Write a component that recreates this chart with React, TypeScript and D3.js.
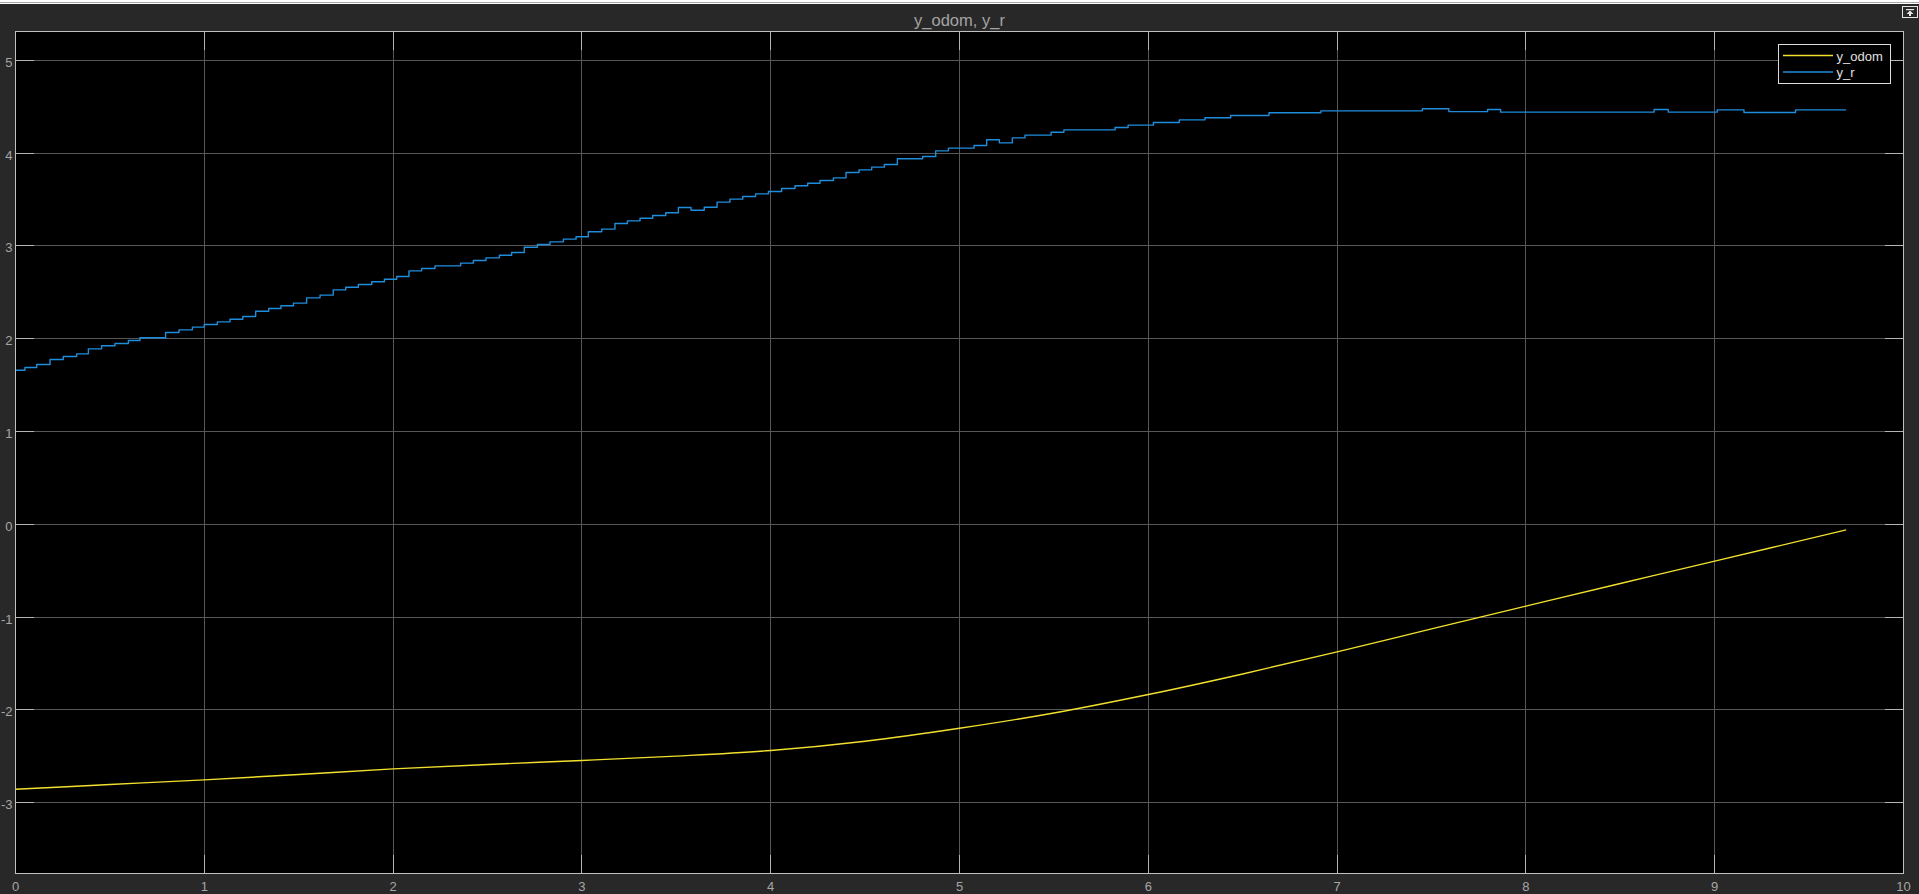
import React from "react";
import * as d3 from "d3";

// ---- Data ----
const xTickValues = [0, 1, 2, 3, 4, 5, 6, 7, 8, 9, 10];
const yTickValues = [-3, -2, -1, 0, 1, 2, 3, 4, 5];
const chartTitle = "y_odom, y_r";
const seriesNames = ["y_odom", "y_r"];

// y_r: staircase, time of each step and the level held after it
const yrTime = [
  0, 0.05, 0.112, 0.183, 0.253, 0.324, 0.386, 0.456, 0.527, 0.598, 0.659, 0.795, 0.866, 0.937,
  1.0, 1.069, 1.136, 1.204, 1.272, 1.341, 1.406, 1.472, 1.542, 1.613, 1.683, 1.749, 1.816, 1.887,
  1.954, 2.019, 2.084, 2.151, 2.222, 2.358, 2.425, 2.492, 2.563, 2.628, 2.695, 2.764, 2.831, 2.902,
  2.969, 3.034, 3.105, 3.175, 3.241, 3.308, 3.375, 3.444, 3.511, 3.578, 3.648, 3.716, 3.784, 3.852,
  3.92, 3.988, 4.058, 4.129, 4.196, 4.261, 4.332, 4.399, 4.468, 4.535, 4.602, 4.671, 4.805, 4.874,
  4.941, 5.077, 5.144, 5.211, 5.28, 5.347, 5.485, 5.553, 5.824, 5.893, 6.027, 6.164, 6.3, 6.436,
  6.639, 6.914, 7.452, 7.592, 7.797, 7.866, 8.679, 8.754, 9.013, 9.155, 9.428, 9.696,
];
const yrValue = [
  1.661, 1.69, 1.722, 1.776, 1.809, 1.837, 1.891, 1.924, 1.949, 1.981, 2.01, 2.067, 2.096, 2.125,
  2.154, 2.182, 2.211, 2.24, 2.297, 2.326, 2.355, 2.384, 2.441, 2.47, 2.527, 2.556, 2.585, 2.614,
  2.642, 2.671, 2.732, 2.757, 2.786, 2.815, 2.844, 2.872, 2.901, 2.93, 2.987, 3.016, 3.045, 3.074,
  3.099, 3.153, 3.182, 3.243, 3.271, 3.3, 3.329, 3.358, 3.415, 3.386, 3.418, 3.473, 3.505, 3.534,
  3.562, 3.588, 3.62, 3.649, 3.677, 3.706, 3.735, 3.792, 3.821, 3.85, 3.879, 3.94, 3.965, 4.026,
  4.055, 4.084, 4.145, 4.112, 4.166, 4.195, 4.227, 4.252, 4.278, 4.303, 4.332, 4.36, 4.382, 4.407,
  4.436, 4.457, 4.479, 4.449, 4.472, 4.443, 4.472, 4.443, 4.468, 4.44, 4.468, 4.468,
];

// y_odom: smooth curve
const yodomTime = [0, 0.5, 1, 1.5, 2, 2.5, 3, 3.5, 4, 4.5, 5, 5.5, 6, 6.5, 7, 7.5, 8, 8.5, 9, 9.696];
const yodomValue = [
  -2.857, -2.806, -2.756, -2.698, -2.638, -2.59, -2.547, -2.5, -2.439, -2.339, -2.2, -2.035, -1.836,
  -1.614, -1.376, -1.128, -0.883, -0.639, -0.398, -0.061,
];

const W = 1919;
const H = 894;
const left = 15.5, right = 1903.5, top = 31.5, bottom = 873.5;
const yLo = -3 - 71 / 92.75;
const yHi = 5 + 29 / 92.75;

const BG = "#282828";
const AXIS = "#c0c0c0";
const GRID = "#575757";
const TICK = "#b4b4b4";
const LABEL = "#a6a6a6";
const YELLOW = "#f2e02e";
const BLUE = "#1e8ddc";
const FONT = "'Liberation Sans', Arial, Helvetica, sans-serif";

export default function App() {
  const x = d3.scaleLinear().domain([0, 10]).range([left, right]);
  const y = d3.scaleLinear().domain([yLo, yHi]).range([bottom, top]);

  const yrData = yrTime.map((t, i) => [t, yrValue[i]] as [number, number]);
  const yodomData = yodomTime.map((t, i) => [t, yodomValue[i]] as [number, number]);

  const stepLine = d3
    .line<[number, number]>()
    .x((d) => x(d[0]))
    .y((d) => y(d[1]))
    .curve(d3.curveStepAfter);
  const smoothLine = d3
    .line<[number, number]>()
    .x((d) => x(d[0]))
    .y((d) => y(d[1]))
    .curve(d3.curveCatmullRom.alpha(0.5));

  const px = (v: number) => Math.round(x(v) - 0.5) + 0.5;
  const py = (v: number) => Math.round(y(v) - 0.5) + 0.5;
  const tickLen = 18.5;

  return (
    <div style={{ position: "fixed", left: 0, top: 0, width: W, height: H, overflow: "hidden" }}>
      <svg width={W} height={H} style={{ display: "block" }} fontFamily={FONT}>
        <rect x={0} y={0} width={W} height={H} fill={BG} />
        <rect x={0} y={0} width={W} height={4} fill="#ffffff" />
        <rect x={0} y={2} width={W} height={1} fill="#a8a8a8" />

        {/* undock button */}
        <g>
          <rect x={1902.5} y={6.5} width={15} height={11} fill={BG} stroke="#e6e6e6" strokeWidth={1} />
          <rect x={1906} y={9} width={8} height={1.2} fill="#e6e6e6" />
          <path d="M1910,10.5 L1913.5,14 L1911,14 L1911,16 L1909,16 L1909,14 L1906.5,14 Z" fill="#e6e6e6" />
        </g>

        {/* title */}
        <text x={(left + right) / 2} y={26} textAnchor="middle" fontSize={16.5} fill="#a4a4a4">
          {chartTitle}
        </text>

        {/* plot area */}
        <rect x={left} y={top} width={right - left} height={bottom - top} fill="#000000" />

        <clipPath id="plotclip">
          <rect x={left} y={top} width={right - left} height={bottom - top} />
        </clipPath>

        {/* grid */}
        <g shapeRendering="crispEdges">
          {xTickValues.map((v) => (
            <line key={"gx" + v} x1={px(v)} x2={px(v)} y1={top} y2={bottom} stroke={GRID} strokeWidth={1} />
          ))}
          {yTickValues.map((v) => (
            <line key={"gy" + v} x1={left} x2={right} y1={py(v)} y2={py(v)} stroke={GRID} strokeWidth={1} />
          ))}
        </g>

        {/* ticks (mirrored on all sides) */}
        <g shapeRendering="crispEdges" stroke={TICK} strokeWidth={1}>
          {xTickValues.map((v) => (
            <g key={"tx" + v}>
              <line x1={px(v)} x2={px(v)} y1={bottom} y2={bottom - tickLen} />
              <line x1={px(v)} x2={px(v)} y1={top} y2={top + tickLen} />
            </g>
          ))}
          {yTickValues.map((v) => (
            <g key={"ty" + v}>
              <line x1={left} x2={left + tickLen} y1={py(v)} y2={py(v)} />
              <line x1={right} x2={right - tickLen} y1={py(v)} y2={py(v)} />
            </g>
          ))}
        </g>

        {/* series */}
        <g clipPath="url(#plotclip)" fill="none">
          <path d={smoothLine(yodomData) || ""} stroke={YELLOW} strokeWidth={1.4} />
          <path d={stepLine(yrData) || ""} stroke={BLUE} strokeWidth={1.4} strokeLinejoin="round" />
        </g>

        {/* axes box */}
        <rect
          x={left}
          y={top}
          width={right - left}
          height={bottom - top}
          fill="none"
          stroke={AXIS}
          strokeWidth={1}
          shapeRendering="crispEdges"
        />

        {/* tick labels */}
        <g fontSize={13} fill={LABEL}>
          {xTickValues.map((v) => (
            <text key={"lx" + v} x={x(v)} y={891} textAnchor="middle">
              {String(v)}
            </text>
          ))}
          {yTickValues.map((v) => (
            <text key={"ly" + v} x={12.5} y={py(v) + 6.3} textAnchor="end">
              {v < 0 ? "-" + Math.abs(v) : String(v)}
            </text>
          ))}
        </g>

        {/* legend */}
        <g>
          <rect x={1778.5} y={44.5} width={112} height={39} fill="#000000" stroke="#dcdcdc" strokeWidth={1} shapeRendering="crispEdges" />
          <line x1={1783} x2={1833} y1={55.5} y2={55.5} stroke={YELLOW} strokeWidth={1.4} />
          <line x1={1783} x2={1833} y1={72} y2={72} stroke={BLUE} strokeWidth={1.4} />
          <text x={1836.5} y={60.5} fontSize={13} fill="#e0e0e0">
            {seriesNames[0]}
          </text>
          <text x={1836.5} y={77} fontSize={13} fill="#e0e0e0">
            {seriesNames[1]}
          </text>
        </g>
      </svg>
    </div>
  );
}
